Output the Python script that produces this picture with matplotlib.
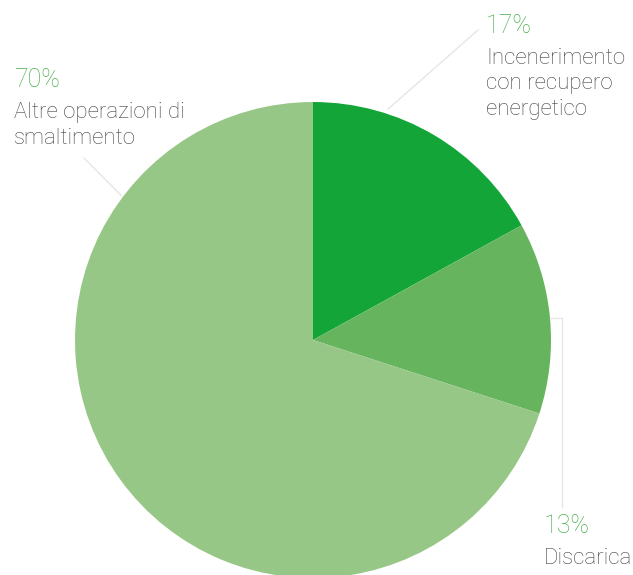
import numpy as np
import matplotlib
matplotlib.use("Agg")
from matplotlib import pyplot as plt

# data
labels = ["Incenerimento\ncon recupero\nenergetico", "Discarica", "Altre operazioni di\nsmaltimento"]
shares = [17, 13, 70]
colors = ["#14a538", "#66b55e", "#97c786"]

W, H = 633, 575
fig = plt.figure(figsize=(W / 100, H / 100), dpi=100)
ax = fig.add_axes([0, 0, 1, 1])

cx, cy, r = 313, H - 340, 238
ax.pie(shares, colors=colors, startangle=90, counterclock=False,
       center=(cx, cy), radius=r, wedgeprops=dict(linewidth=0))
ax.set_xlim(0, W)
ax.set_ylim(0, H)
ax.set_aspect("equal")
ax.axis("off")

pct_color = "#4caf50"
txt_color = "#444444"
line_color = "#e6e6e6"
fam = ["Roboto", "DejaVu Sans"]

# label layout: (x, baseline y of percent)
layout = [(486, 33), (544, 533), (14, 87)]

def edge(a, k=1.0):
    t = np.deg2rad(a)
    return cx + k * r * np.cos(t), cy + k * r * np.sin(t)

for (x, yb), lab, s in zip(layout, labels, shares):
    ax.text(x, H - yb, f"{s}%", color=pct_color, fontsize=18, va="baseline", ha="left",
            family=fam, fontweight="light")
    for i, ln in enumerate(lab.split("\n")):
        ax.text(x, H - (yb + 31 + 25.5 * i), ln, color=txt_color, fontsize=16,
                va="baseline", ha="left", family=fam, fontweight="light")

# leader lines
x0, y0 = edge(72, 1.02)
ax.plot([x0, 478], [y0, H - 30], color=line_color, lw=1)
x0, y0 = edge(5.4, 1.0)
ax.plot([x0, 562, 562], [y0, y0, H - 507], color=line_color, lw=1)
x0, y0 = edge(143, 1.01)
ax.plot([x0, 84], [y0, H - 158], color=line_color, lw=1)

fig.savefig("out.png", dpi=100)
